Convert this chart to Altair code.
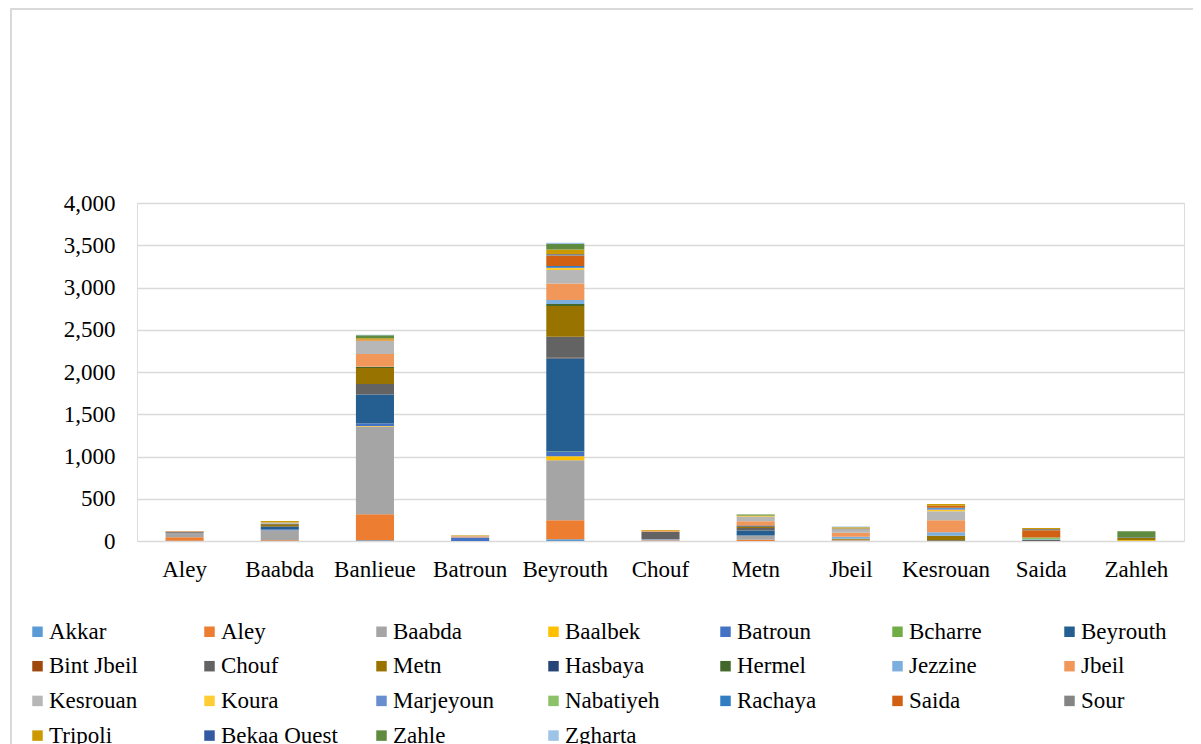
import altair as alt
import pandas as pd

categories = ["Aley", "Baabda", "Banlieue", "Batroun", "Beyrouth", "Chouf",
              "Metn", "Jbeil", "Kesrouan", "Saida", "Zahleh"]

series_names = ["Akkar", "Aley", "Baabda", "Baalbek", "Batroun", "Bcharre",
                "Beyrouth", "Bint Jbeil", "Chouf", "Metn", "Hasbaya", "Hermel",
                "Jezzine", "Jbeil", "Kesrouan", "Koura", "Marjeyoun", "Nabatiyeh",
                "Rachaya", "Saida", "Sour", "Tripoli", "Bekaa Ouest", "Zahle",
                "Zgharta"]

series_colors = ["#5B9BD5", "#ED7D31", "#A5A5A5", "#FFC000", "#4472C4", "#70AD47",
                 "#255E91", "#9E480E", "#636363", "#997300", "#264478", "#43682B",
                 "#7CAFDD", "#F1975A", "#B7B7B7", "#FFCD33", "#698ED0", "#8CC168",
                 "#327DC2", "#D26012", "#848484", "#CC9A00", "#335AA1", "#5E8B3F",
                 "#9DC3E6"]

# values per series, in the order of `categories`
akkar = [3, 0, 10, 0, 20, 0, 0, 0, 0, 0, 0]
aley = [40, 10, 308, 0, 225, 5, 15, 5, 0, 0, 0]
baabda = [55, 118, 1037, 0, 710, 15, 50, 10, 0, 0, 0]
baalbek = [0, 0, 5, 0, 47, 0, 0, 0, 0, 0, 10]
batroun = [0, 10, 30, 40, 51, 5, 0, 0, 0, 0, 0]
bcharre = [0, 0, 0, 0, 5, 0, 0, 0, 0, 0, 0]
beyrouth = [0, 28, 343, 0, 1105, 0, 60, 0, 0, 0, 0]
bint_jbeil = [0, 0, 0, 0, 5, 0, 0, 0, 0, 0, 0]
chouf = [10, 8, 126, 0, 249, 85, 28, 0, 10, 12, 0]
metn = [5, 24, 189, 0, 363, 0, 20, 12, 51, 0, 25]
hasbaya = [0, 5, 0, 0, 0, 0, 10, 0, 0, 0, 0]
hermel = [0, 0, 10, 0, 24, 0, 0, 0, 0, 0, 5]
jezzine = [0, 0, 5, 0, 47, 0, 0, 22, 43, 10, 0]
jbeil = [5, 0, 150, 15, 197, 12, 50, 50, 142, 0, 0]
kesrouan = [0, 15, 154, 8, 158, 0, 55, 38, 107, 0, 0]
koura = [0, 0, 5, 0, 24, 0, 5, 0, 16, 0, 0]
marjeyoun = [0, 0, 0, 0, 12, 0, 0, 0, 12, 0, 0]
nabatiyeh = [0, 0, 0, 0, 0, 0, 0, 0, 0, 20, 0]
rachaya = [0, 0, 0, 0, 12, 0, 0, 0, 12, 0, 0]
saida = [0, 0, 12, 0, 122, 0, 0, 0, 24, 85, 0]
sour = [0, 0, 0, 0, 20, 0, 0, 10, 0, 15, 0]
tripoli = [0, 20, 15, 5, 55, 8, 10, 15, 20, 12, 0]
bekaa_ouest = [0, 0, 0, 0, 0, 0, 0, 0, 0, 0, 5]
zahle = [0, 0, 36, 0, 63, 0, 10, 0, 0, 0, 70]
zgharta = [0, 0, 5, 0, 15, 0, 0, 10, 0, 0, 0]

series_values = [akkar, aley, baabda, baalbek, batroun, bcharre, beyrouth,
                 bint_jbeil, chouf, metn, hasbaya, hermel, jezzine, jbeil,
                 kesrouan, koura, marjeyoun, nabatiyeh, rachaya, saida, sour,
                 tripoli, bekaa_ouest, zahle, zgharta]

rows = []
for si, (name, vals) in enumerate(zip(series_names, series_values)):
    for cat, v in zip(categories, vals):
        rows.append({"category": cat, "series": name, "value": v, "order": si})
df = pd.DataFrame(rows)

FONT = "'Liberation Serif', 'Times New Roman', 'DejaVu Serif', serif"
FS = 23

bars = alt.Chart(df).mark_bar().encode(
    x=alt.X("category:N", sort=categories, title=None,
            scale=alt.Scale(paddingInner=0.6, paddingOuter=0.3),
            axis=alt.Axis(labelAngle=0, ticks=False, domain=False, grid=False,
                          labelFont=FONT, labelFontSize=FS, labelColor="#000000",
                          labelPadding=17, labelBaseline="top")),
    y=alt.Y("sum(value):Q", title=None,
            scale=alt.Scale(domain=[0, 4000]),
            axis=alt.Axis(values=list(range(0, 4001, 500)), format=",.0f",
                          ticks=False, domain=False, gridColor="#D9D9D9",
                          gridWidth=1.3, labelFont=FONT, labelFontSize=FS,
                          labelColor="#000000", labelPadding=22)),
    color=alt.Color("series:N",
                    scale=alt.Scale(domain=series_names, range=series_colors),
                    legend=alt.Legend(title=None, orient="none", legendX=-111,
                                      legendY=417, columns=7, direction="horizontal",
                                      symbolType="square", symbolSize=110,
                                      symbolStrokeWidth=0, labelFont=FONT,
                                      labelFontSize=FS, labelColor="#000000",
                                      labelOffset=0, gridAlign="all",
                                      columnPadding=32, rowPadding=10.7,
                                      labelLimit=250)),
    order=alt.Order("order:Q", sort="ascending"),
)

frame = alt.Chart(alt.Data(values=[{"a": 1}])).mark_rect(
    fill=None, stroke="#D9D9D9", strokeWidth=2
).encode(
    x=alt.value(-126), x2=alt.value(1100), y=alt.value(-194), y2=alt.value(700)
)

chart = alt.layer(frame, bars).properties(
    width=1047, height=338,
    autosize=alt.AutoSizeParams(type="none"),
    padding={"left": 129, "top": 195, "right": 9, "bottom": 203},
).configure_view(stroke=None).configure(background="#FFFFFF")

chart.save("out.html", embed_options={"renderer": "svg", "actions": False})
